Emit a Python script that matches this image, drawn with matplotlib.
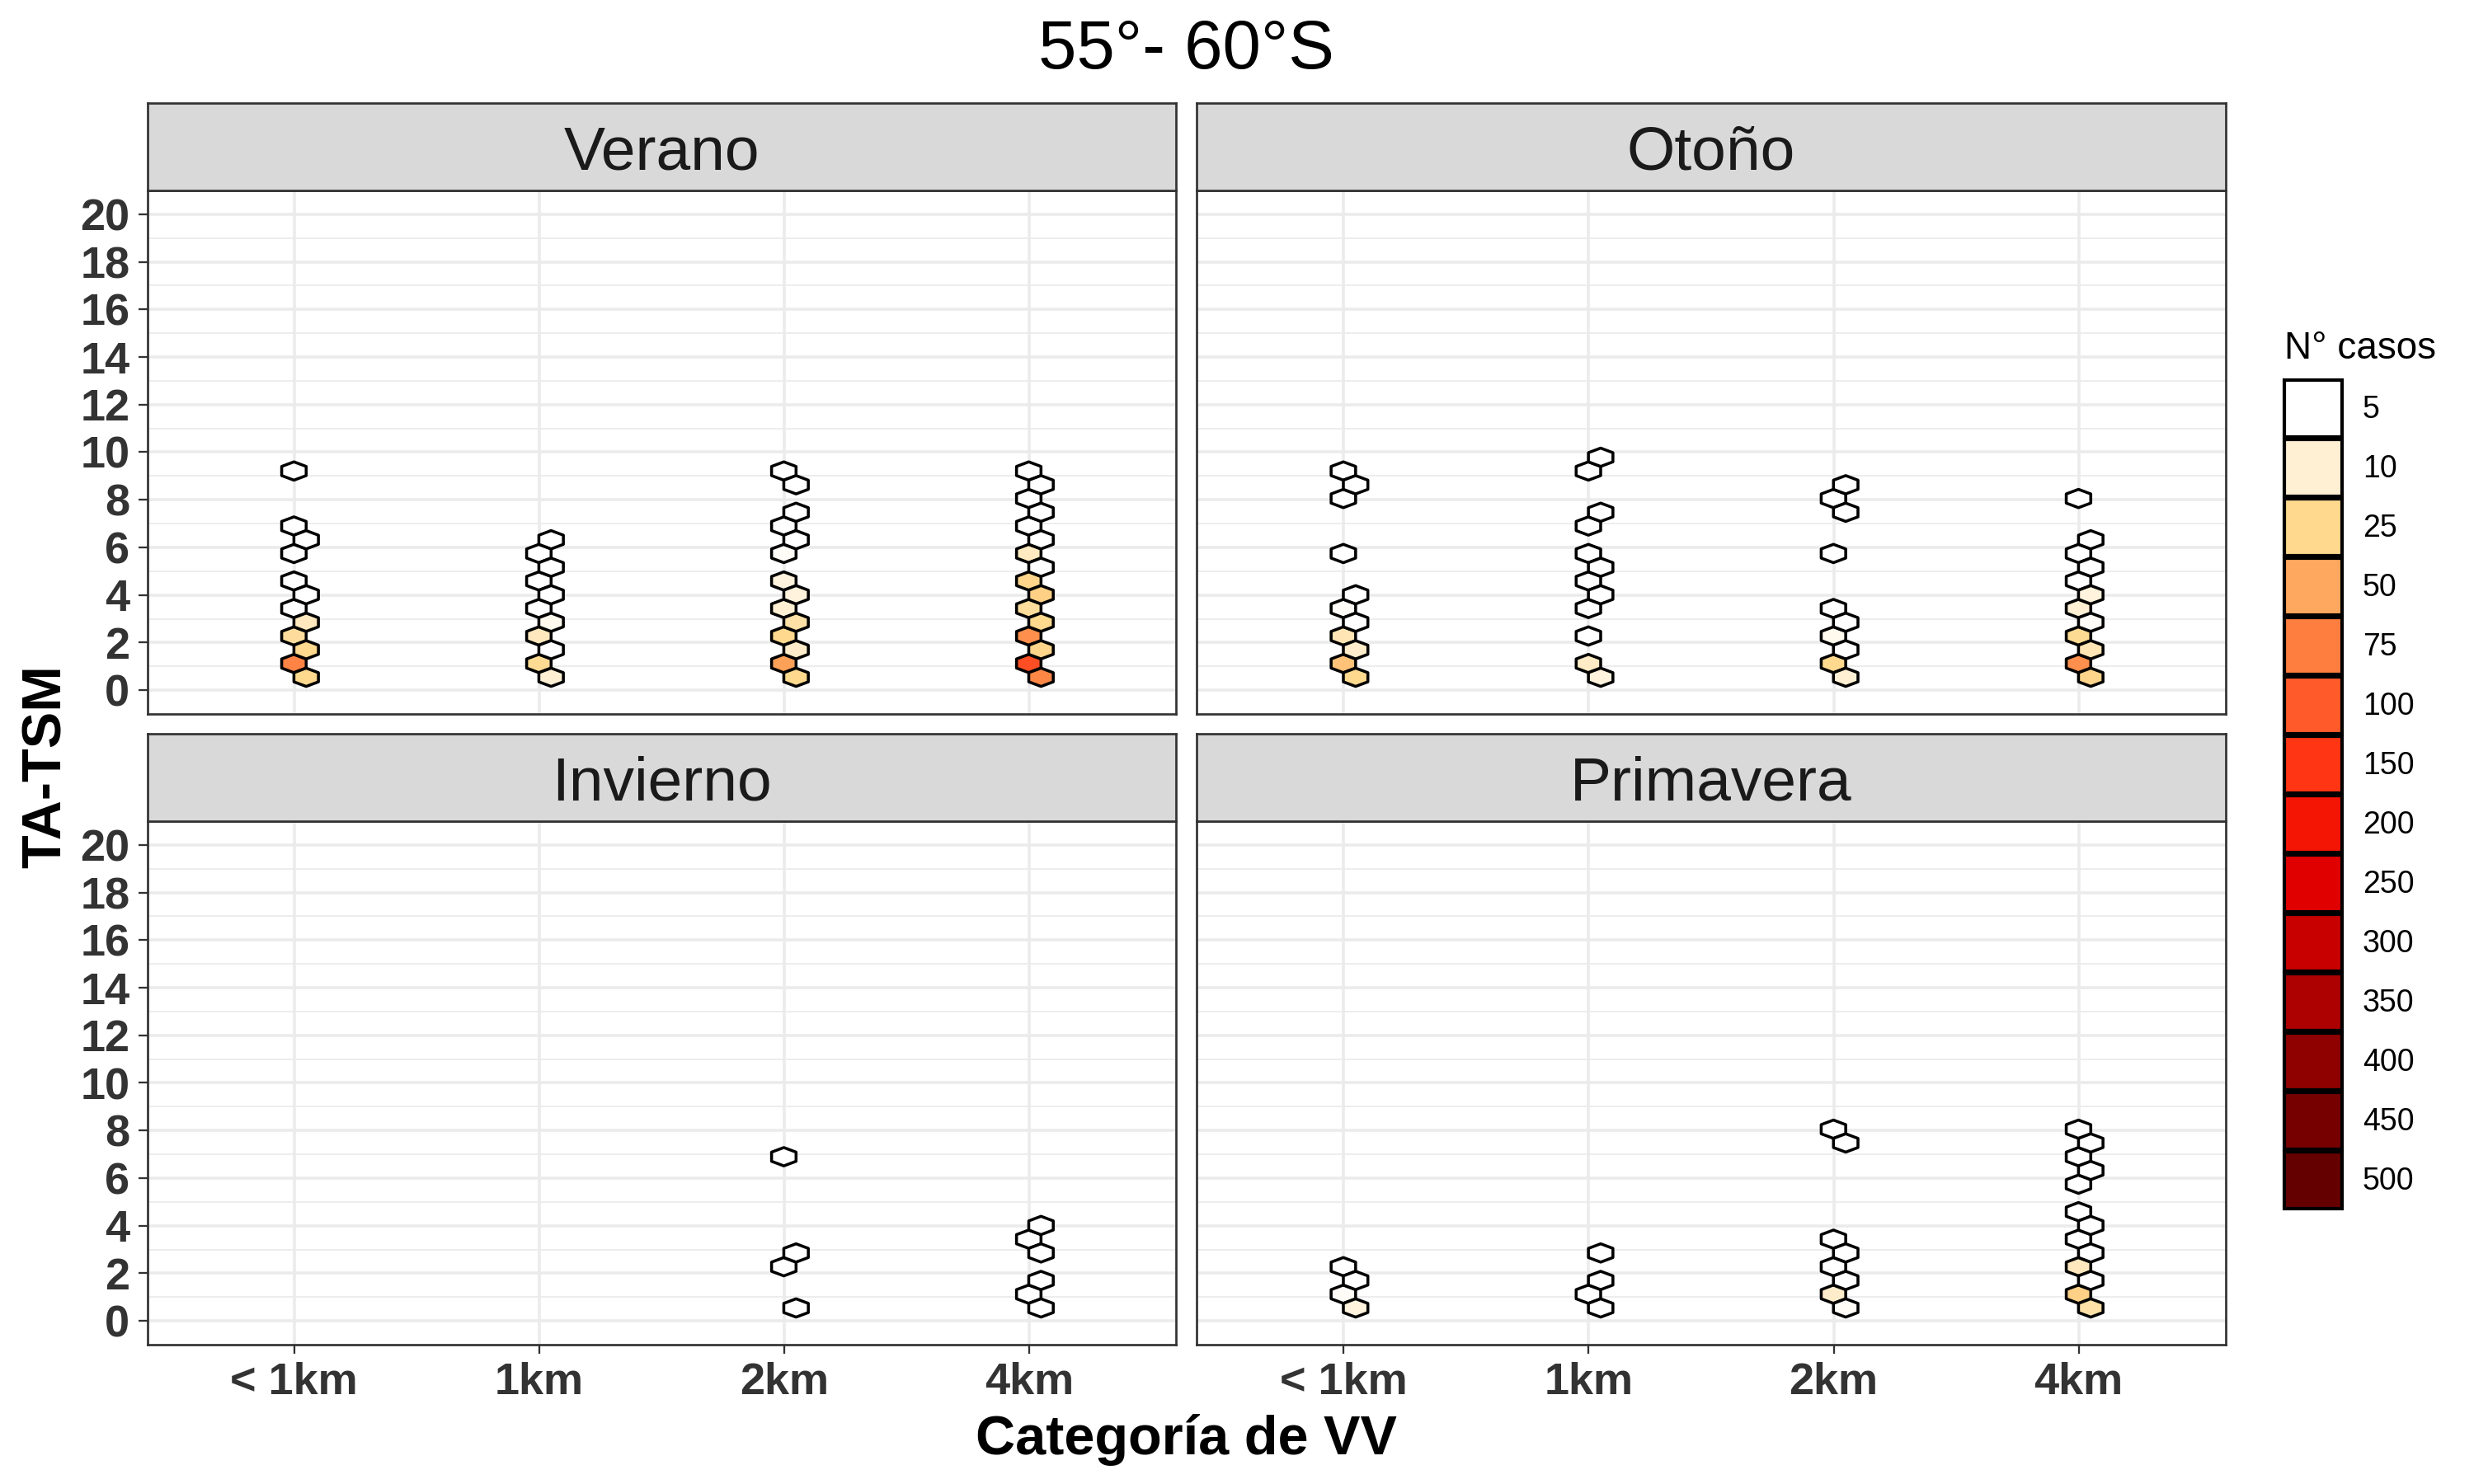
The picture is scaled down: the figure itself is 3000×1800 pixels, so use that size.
import numpy as np
import matplotlib
matplotlib.use('Agg')
import matplotlib.pyplot as plt
from matplotlib.colors import LinearSegmentedColormap, Normalize
from matplotlib.patches import Patch

plt.rcParams['font.family'] = ['Liberation Sans', 'DejaVu Sans']

# ---------------- datos ----------------
titulo = '55°- 60°S'
estaciones = ['Verano', 'Otoño', 'Invierno', 'Primavera']
categorias = ['< 1km', '1km', '2km', '4km']

# TA-TSM (centro del hexágono) y N° de casos, por categoría de VV
verano_ta = [
    [0.5, 1.1, 1.7, 2.3, 2.9, 3.4, 4.0, 4.6, 5.8, 6.3, 6.9, 9.2],
    [0.5, 1.1, 1.7, 2.3, 2.9, 3.4, 4.0, 4.6, 5.2, 5.8, 6.3],
    [0.5, 1.1, 1.7, 2.3, 2.9, 3.4, 4.0, 4.6, 5.8, 6.3, 6.9, 7.5, 8.6, 9.2],
    [0.5, 1.1, 1.7, 2.3, 2.9, 3.4, 4.0, 4.6, 5.2, 5.8, 6.3, 6.9, 7.5, 8.1, 8.6, 9.2],
]
verano_n = [
    [25, 72, 25, 22, 15, 3, 2, 2, 2, 1, 2, 1],
    [10, 24, 4, 15, 7, 3, 2, 3, 2, 1, 1],
    [25, 55, 12, 25, 20, 10, 9, 9, 6, 2, 3, 1, 1, 1],
    [70, 117, 27, 65, 25, 22, 30, 27, 3, 14, 2, 2, 1, 2, 1, 1],
]

otono_ta = [
    [0.5, 1.1, 1.7, 2.3, 2.9, 3.4, 4.0, 5.8, 8.1, 8.6, 9.2],
    [0.5, 1.1, 2.3, 3.4, 4.0, 4.6, 5.2, 5.8, 6.9, 7.5, 9.2, 9.8],
    [0.5, 1.1, 1.7, 2.3, 2.9, 3.4, 5.8, 7.5, 8.1, 8.6],
    [0.5, 1.1, 1.7, 2.3, 2.9, 3.4, 4.0, 4.6, 5.2, 5.8, 6.3, 8.1],
]
otono_n = [
    [25, 37, 12, 17, 3, 6, 2, 1, 1, 2, 1],
    [9, 13, 2, 2, 1, 3, 2, 1, 2, 1, 1, 1],
    [10, 25, 3, 7, 2, 1, 1, 1, 2, 1],
    [27, 65, 17, 24, 6, 10, 9, 2, 3, 1, 1, 1],
]

invierno_ta = [
    [],
    [],
    [0.5, 2.3, 2.9, 6.9],
    [0.5, 1.1, 1.7, 2.9, 3.4, 4.0],
]
invierno_n = [
    [],
    [],
    [1, 1, 1, 1],
    [2, 1, 1, 1, 1, 1],
]

primavera_ta = [
    [0.5, 1.1, 1.7, 2.3],
    [0.5, 1.1, 1.7, 2.9],
    [0.5, 1.1, 1.7, 2.3, 2.9, 3.4, 7.5, 8.1],
    [0.5, 1.1, 1.7, 2.3, 2.9, 3.4, 4.0, 4.6, 5.8, 6.3, 6.9, 7.5, 8.1],
]
primavera_n = [
    [9, 6, 2, 1],
    [1, 2, 1, 1],
    [6, 12, 2, 3, 1, 2, 1, 1],
    [20, 29, 3, 15, 2, 1, 2, 1, 1, 1, 1, 2, 1],
]

datos_ta = [verano_ta, otono_ta, invierno_ta, primavera_ta]
datos_n = [verano_n, otono_n, invierno_n, primavera_n]

# escala de colores (leyenda)
cortes = [5, 10, 25, 50, 75, 100, 150, 200, 250, 300, 350, 400, 450, 500]
colores = ['#FFFFFF', '#FFEFD2', '#FED98E', '#FDA85E', '#FE7E40', '#FF5A2A',
           '#FF3514', '#F51505', '#E00000', '#C80000', '#AD0000', '#8F0000',
           '#760000', '#650000']

# ---------------- estilo ----------------
cmap = LinearSegmentedColormap.from_list(
    'casos', list(zip([0.0] + [c / cortes[-1] for c in cortes], ['#FFFFFF'] + colores)), N=1024)
norm = Normalize(0, cortes[-1])

W, H = 3000, 1800
fig = plt.figure(figsize=(10, 6), dpi=300)

col_x = [(178.5, 1426), (1451, 2699)]
fila_y = [(231, 866), (996, 1631)]
alto_strip = 106
borde = '#333333'
grid_c = '#EBEBEB'

# rejilla hexagonal (ancho 0.1 categorías, paso vertical 1.1556)
hex_extent = (0.499, 4.499, -0.035, -0.035 + 20 * 1.1556)
hex_grid = (40, 20)

for i, est in enumerate(estaciones):
    fila, col = divmod(i, 2)
    x0, x1 = col_x[col]
    yt, yb = fila_y[fila]
    ax = fig.add_axes([x0 / W, 1 - yb / H, (x1 - x0) / W, (yb - yt) / H])

    xs, ys, ns = [], [], []
    for k in range(len(categorias)):
        xs += [k + 1] * len(datos_ta[i][k])
        ys += datos_ta[i][k]
        ns += datos_n[i][k]

    ax.hexbin(np.array(xs, float), np.array(ys, float), C=np.array(ns, float),
              reduce_C_function=np.sum, gridsize=hex_grid, extent=hex_extent,
              cmap=cmap, norm=norm, edgecolors='black', linewidths=0.85)

    ax.set_xlim(0.4, 4.6)
    ax.set_ylim(-1, 21)
    ax.set_xticks(range(1, len(categorias) + 1))
    ax.set_xticklabels(categorias)
    ax.set_yticks(range(0, 21, 2))
    ax.set_yticks(range(1, 20, 2), minor=True)
    ax.set_axisbelow(True)
    ax.grid(which='major', color=grid_c, lw=0.85)
    ax.grid(which='minor', axis='y', color=grid_c, lw=0.42)
    for s in ax.spines.values():
        s.set_color(borde)
        s.set_linewidth(0.65)
    ax.tick_params(which='major', length=2.75, width=0.55, color=borde, pad=2.3,
                   labelsize=13, labelcolor='#333333')
    ax.tick_params(which='minor', length=0)
    for lab in ax.get_xticklabels() + ax.get_yticklabels():
        lab.set_fontweight('bold')
    if col == 1:
        ax.tick_params(axis='y', left=False, labelleft=False)
    if fila == 0:
        ax.tick_params(axis='x', bottom=False, labelbottom=False)

    sax = fig.add_axes([x0 / W, 1 - yt / H, (x1 - x0) / W, alto_strip / H])
    sax.set_facecolor('#D9D9D9')
    sax.set_xticks([])
    sax.set_yticks([])
    for s in sax.spines.values():
        s.set_color(borde)
        s.set_linewidth(0.65)
    sax.text(0.5, 0.245, est, ha='center', va='baseline', fontsize=18,
             color='#1A1A1A', transform=sax.transAxes)

fig.text(1438.5 / W, 1 - 83 / H, titulo, ha='center', va='baseline', fontsize=20)
fig.text(1438.5 / W, 1 - 1764 / H, 'Categoría de VV', ha='center', va='baseline',
         fontsize=16, fontweight='bold')
fig.text(0.019, 1 - 930 / H, 'TA-TSM', ha='center', va='center', rotation=90,
         fontsize=16, fontweight='bold')

# leyenda
fig.text(2770 / W, 1 - 435 / H, 'N° casos', ha='left', va='baseline', fontsize=11)
handles = [Patch(facecolor=cmap(norm(c)), edgecolor='black', linewidth=1.0) for c in cortes]
fig.legend(handles, [str(c) for c in cortes], loc='upper left',
           bbox_to_anchor=(2770 / W, 1 - 461 / H), frameon=False, borderpad=0,
           borderaxespad=0, fontsize=9, handlelength=1.867, handleheight=2.454,
           labelspacing=0.08, handletextpad=0.667)

fig.savefig('out.png', dpi=300)
